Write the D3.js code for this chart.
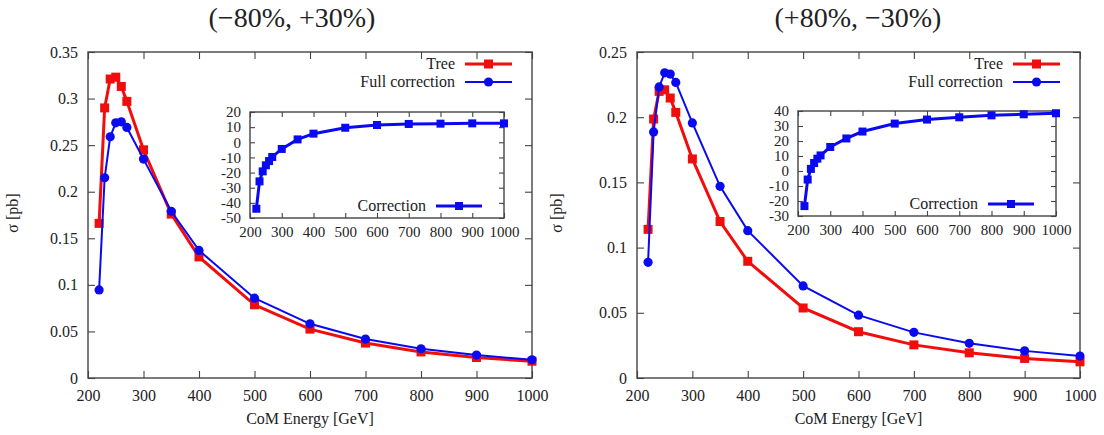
<!DOCTYPE html>
<html>
<head>
<meta charset="utf-8">
<script src="https://cdn.jsdelivr.net/npm/d3@7"></script>
<style>
  body { margin: 0; background: #fff; }
  svg text { font-family: "Liberation Serif", "DejaVu Serif", serif !important; fill: #222; }
  .axis text { font-size: 16px; fill: #222; }
  .inset .axis text { font-size: 15px; }
  .axis line { stroke: #444; stroke-width: 1.1; }
</style>
</head>
<body>
<div id="chart"></div>
<script>
// values
const energy = [220, 230, 240, 250, 260, 270, 300, 350, 400, 500, 600, 700, 800, 900, 1000];

const treeLeft = [0.166, 0.290, 0.321, 0.323, 0.313, 0.297, 0.245, 0.176, 0.130, 0.0786, 0.0525, 0.0375, 0.028, 0.022, 0.018];
const fullLeft = [0.0946, 0.215, 0.259, 0.274, 0.275, 0.269, 0.235, 0.179, 0.137, 0.0857, 0.0582, 0.0418, 0.0314, 0.0246, 0.0196];
const corrLeft = [-43.9, -25.8, -19.2, -15.2, -12.4, -9.7, -4.4, 1.9, 5.7, 9.6, 11.4, 12.1, 12.3, 12.5, 12.5];

const treeRight = [0.114, 0.1986, 0.2198, 0.221, 0.2147, 0.2037, 0.168, 0.120, 0.0895, 0.0537, 0.0355, 0.0254, 0.0193, 0.015, 0.0124];
const fullRight = [0.0887, 0.1887, 0.2232, 0.234, 0.2331, 0.2267, 0.1956, 0.147, 0.113, 0.0706, 0.0482, 0.035, 0.0266, 0.0208, 0.0168];
const corrRight = [-23.4, -5.7, 1.4, 5.3, 8.2, 10.4, 16, 21.7, 26.3, 31.6, 34.3, 35.8, 37.1, 37.8, 38.5];

const xTicks = [200, 300, 400, 500, 600, 700, 800, 900, 1000];
const yTicksLeft = [0, 0.05, 0.1, 0.15, 0.2, 0.25, 0.3, 0.35];
const yTicksRight = [0, 0.05, 0.1, 0.15, 0.2, 0.25];
const insetTicksLeft = [-50, -40, -30, -20, -10, 0, 10, 20];
const insetTicksRight = [-30, -20, -10, 0, 10, 20, 30, 40];

const titles = ["(\u221280%, +30%)", "(+80%, \u221230%)"];
const seriesNames = ["Tree", "Full correction"];
const insetName = "Correction";

const RED = "#f20d0d", BLUE = "#0a0af0", FRAME = "#444";
const SERIF = '"Liberation Serif", "DejaVu Serif", serif';

const svg = d3.select("#chart").append("svg")
  .attr("width", 1104)
  .attr("height", 435)
  .style("font-family", SERIF);

const panels = [
  { tree: treeLeft, full: fullLeft, corr: corrLeft, yTicks: yTicksLeft, ymax: 0.35,
    box: { l: 88, r: 532, t: 52, b: 378 }, titleX: 292, yLabelX: 13,
    inset: { l: 250, r: 504, t: 112, b: 218, ticks: insetTicksLeft } },
  { tree: treeRight, full: fullRight, corr: corrRight, yTicks: yTicksRight, ymax: 0.25,
    box: { l: 637, r: 1080, t: 52, b: 378 }, titleX: 858, yLabelX: 557,
    inset: { l: 798, r: 1056, t: 111, b: 216, ticks: insetTicksRight } }
];

// frame with inward ticks on all four sides (gnuplot look)
function frameAxes(g, x, y, xt, yt, tick, padX, padY, yFmt) {
  const [x0, x1] = x.range(), [y0, y1] = y.range();
  g.append("g").attr("class", "axis").attr("transform", `translate(0,${y0})`)
    .call(d3.axisBottom(x).tickValues(xt).tickSize(-tick).tickPadding(padX).tickFormat(d3.format("d")));
  g.append("g").attr("class", "axis").attr("transform", `translate(0,${y1})`)
    .call(d3.axisTop(x).tickValues(xt).tickSize(-tick).tickFormat(""));
  g.append("g").attr("class", "axis").attr("transform", `translate(${x0},0)`)
    .call(d3.axisLeft(y).tickValues(yt).tickSize(-tick).tickPadding(padY).tickFormat(yFmt));
  g.append("g").attr("class", "axis").attr("transform", `translate(${x1},0)`)
    .call(d3.axisRight(y).tickValues(yt).tickSize(-tick).tickFormat(""));
  // d3 puts sans-serif / 10px on the axis groups, drop that
  g.selectAll(".axis").attr("font-family", null).attr("font-size", null);
  g.selectAll(".domain").remove();
  g.append("rect")
    .attr("x", x0).attr("y", y1)
    .attr("width", x1 - x0).attr("height", y0 - y1)
    .attr("fill", "none").attr("stroke", FRAME).attr("stroke-width", 1.4);
}

function squares(g, pts, size, color) {
  g.selectAll(null).data(pts).enter().append("rect")
    .attr("x", d => d[0] - size / 2).attr("y", d => d[1] - size / 2)
    .attr("width", size).attr("height", size)
    .attr("fill", color);
}

function circles(g, pts, r, color) {
  g.selectAll(null).data(pts).enter().append("circle")
    .attr("cx", d => d[0]).attr("cy", d => d[1]).attr("r", r)
    .attr("fill", color);
}

panels.forEach((p, k) => {
  const g = svg.append("g");
  const b = p.box;

  const x = d3.scaleLinear().domain([200, 1000]).range([b.l, b.r]);
  const y = d3.scaleLinear().domain([0, p.ymax]).range([b.b, b.t]);

  frameAxes(g, x, y, xTicks, p.yTicks, 7, 12, 10, d => String(+d.toFixed(2)));

  const line = d3.line().x(d => x(d[0])).y(d => y(d[1]));
  const treePts = energy.map((e, i) => [e, p.tree[i]]);
  const fullPts = energy.map((e, i) => [e, p.full[i]]);

  g.append("path").attr("d", line(treePts))
    .attr("fill", "none").attr("stroke", RED).attr("stroke-width", 3);
  squares(g, treePts.map(d => [x(d[0]), y(d[1])]), 9, RED);

  g.append("path").attr("d", line(fullPts))
    .attr("fill", "none").attr("stroke", BLUE).attr("stroke-width", 2);
  circles(g, fullPts.map(d => [x(d[0]), y(d[1])]), 4.6, BLUE);

  // legend, top right
  const lx1 = b.r - 20, lx0 = lx1 - 47;
  [[RED, 64], [BLUE, 82]].forEach(([c, ly], i) => {
    g.append("line").attr("x1", lx0).attr("x2", lx1).attr("y1", ly).attr("y2", ly)
      .attr("stroke", c).attr("stroke-width", i ? 2 : 3);
    if (i) circles(g, [[(lx0 + lx1) / 2, ly]], 4.6, c);
    else squares(g, [[(lx0 + lx1) / 2, ly]], 9, c);
    g.append("text").attr("x", lx0 - 10).attr("y", ly).attr("dy", "0.33em")
      .attr("text-anchor", "end").style("font-size", "16px").text(seriesNames[i]);
  });

  // titles
  g.append("text").attr("x", p.titleX).attr("y", 27)
    .attr("text-anchor", "middle").style("font-size", "28px").text(titles[k]);
  g.append("text").attr("x", (b.l + b.r) / 2).attr("y", 424)
    .attr("text-anchor", "middle").style("font-size", "16px").text("CoM Energy [GeV]");
  g.append("text")
    .attr("transform", `translate(${p.yLabelX},${(b.t + b.b) / 2 - 2}) rotate(-90)`)
    .attr("dy", "0.33em").attr("text-anchor", "middle")
    .style("font-size", "16px").text("\u03c3 [pb]");

  // inset with the relative correction
  const ins = p.inset;
  const gi = svg.append("g").attr("class", "inset");
  gi.append("rect").attr("x", ins.l).attr("y", ins.t)
    .attr("width", ins.r - ins.l).attr("height", ins.b - ins.t).attr("fill", "#fff");
  const xi = d3.scaleLinear().domain([200, 1000]).range([ins.l, ins.r]);
  const yi = d3.scaleLinear().domain(d3.extent(ins.ticks)).range([ins.b, ins.t]);
  frameAxes(gi, xi, yi, xTicks, ins.ticks, 5, 8, 9, d => String(d));

  const corrPts = energy.map((e, i) => [xi(e), yi(p.corr[i])]);
  gi.append("path").attr("d", d3.line()(corrPts))
    .attr("fill", "none").attr("stroke", BLUE).attr("stroke-width", 3);
  squares(gi, corrPts, 8, BLUE);

  const cx1 = ins.r - 22, cx0 = cx1 - 46, cy = ins.b - 12;
  gi.append("line").attr("x1", cx0).attr("x2", cx1).attr("y1", cy).attr("y2", cy)
    .attr("stroke", BLUE).attr("stroke-width", 3);
  squares(gi, [[(cx0 + cx1) / 2, cy]], 8, BLUE);
  gi.append("text").attr("x", cx0 - 10).attr("y", cy).attr("dy", "0.33em")
    .attr("text-anchor", "end").style("font-size", "16px").text(insetName);
});
</script>
</body>
</html>
